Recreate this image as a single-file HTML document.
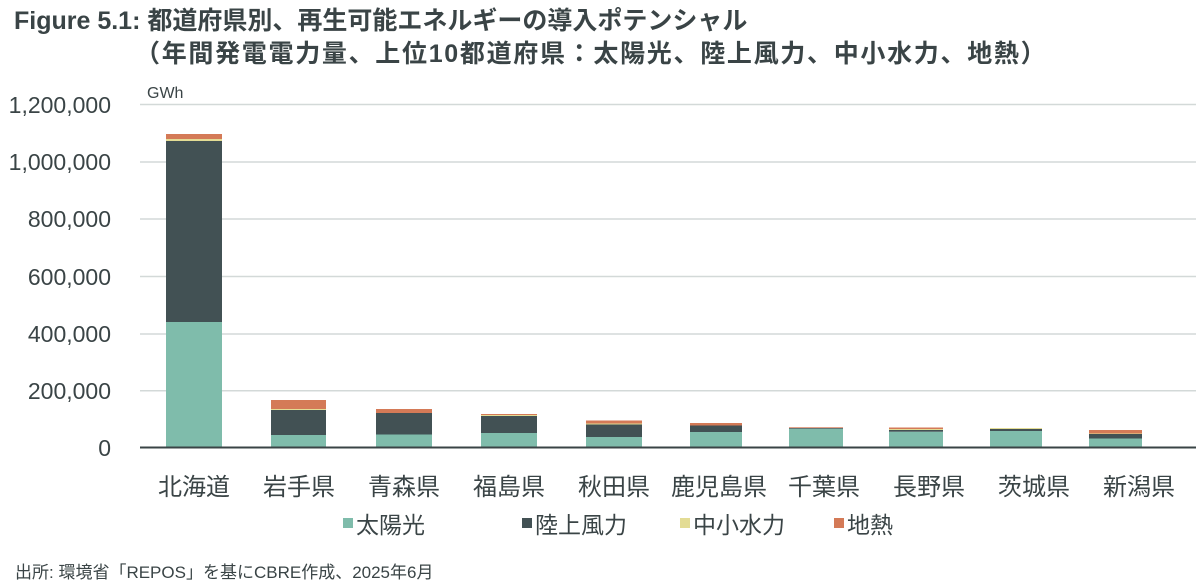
<!DOCTYPE html>
<html><head><meta charset="utf-8"><style>
html,body{margin:0;padding:0;background:#fff;}
svg{display:block;font-family:"Liberation Sans","Noto Sans CJK JP",sans-serif;}
</style></head><body>
<svg width="1200" height="585" viewBox="0 0 1200 585" xmlns="http://www.w3.org/2000/svg">
<g fill="#3a4446">
<text x="14" y="29" font-size="25" font-weight="bold">Figure 5.1: 都道府県別、再生可能エネルギーの導入ポテンシャル</text>
<text x="135" y="62" font-size="25" font-weight="bold" letter-spacing="1.7">（年間発電電力量、上位10都道府県：太陽光、陸上風力、中小水力、地熱）</text>
</g>
<text x="147" y="98" font-size="16" fill="#3a4446">GWh</text>
<g stroke="#d3d9d8" stroke-width="1.5">
<line x1="140" x2="1196" y1="104.5" y2="104.5"/>
<line x1="140" x2="1196" y1="162" y2="162"/>
<line x1="140" x2="1196" y1="219" y2="219"/>
<line x1="140" x2="1196" y1="276.5" y2="276.5"/>
<line x1="140" x2="1196" y1="334" y2="334"/>
<line x1="140" x2="1196" y1="390.8" y2="390.8"/>
</g>
<g font-size="23" fill="#3a4446" text-anchor="end">
<text x="111" y="113">1,200,000</text>
<text x="111" y="170">1,000,000</text>
<text x="111" y="227">800,000</text>
<text x="111" y="285">600,000</text>
<text x="111" y="342">400,000</text>
<text x="111" y="399">200,000</text>
<text x="111" y="456">0</text>
</g>
<g>
<rect x="166" y="322" width="56" height="125" fill="#7fbcab"/>
<rect x="166" y="141" width="56" height="181" fill="#425154"/>
<rect x="166" y="139" width="56" height="2" fill="#e3dc95"/>
<rect x="166" y="134" width="56" height="5" fill="#d47a57"/>
<rect x="271" y="435" width="55" height="12" fill="#7fbcab"/>
<rect x="271" y="410" width="55" height="25" fill="#425154"/>
<rect x="271" y="409" width="55" height="1" fill="#e3dc95"/>
<rect x="271" y="400" width="55" height="9" fill="#d47a57"/>
<rect x="376" y="434.5" width="56" height="12.5" fill="#7fbcab"/>
<rect x="376" y="413" width="56" height="21.5" fill="#425154"/>
<rect x="376" y="409" width="56" height="4" fill="#d47a57"/>
<rect x="481" y="433" width="56" height="14" fill="#7fbcab"/>
<rect x="481" y="416" width="56" height="17" fill="#425154"/>
<rect x="481" y="415" width="56" height="1" fill="#e3dc95"/>
<rect x="481" y="414" width="56" height="1" fill="#d47a57"/>
<rect x="586" y="437" width="56" height="10" fill="#7fbcab"/>
<rect x="586" y="424.5" width="56" height="12.5" fill="#425154"/>
<rect x="586" y="423.5" width="56" height="1" fill="#e3dc95"/>
<rect x="586" y="420.5" width="56" height="3" fill="#d47a57"/>
<rect x="690" y="432" width="52" height="15" fill="#7fbcab"/>
<rect x="690" y="425.5" width="52" height="6.5" fill="#425154"/>
<rect x="690" y="423" width="52" height="2.5" fill="#d47a57"/>
<rect x="789" y="428.7" width="54" height="18.3" fill="#7fbcab"/>
<rect x="789" y="428" width="54" height="0.7" fill="#425154"/>
<rect x="789" y="427.3" width="54" height="0.7" fill="#d47a57"/>
<rect x="889" y="431.7" width="54" height="15.3" fill="#7fbcab"/>
<rect x="889" y="430" width="54" height="1.7" fill="#425154"/>
<rect x="889" y="429" width="54" height="1" fill="#e3dc95"/>
<rect x="889" y="427.5" width="54" height="1.5" fill="#d47a57"/>
<rect x="990" y="431" width="52" height="16" fill="#7fbcab"/>
<rect x="990" y="429" width="52" height="2" fill="#425154"/>
<rect x="990" y="428" width="52" height="1" fill="#e3dc95"/>
<rect x="1089" y="438.5" width="53" height="8.5" fill="#7fbcab"/>
<rect x="1089" y="434" width="53" height="4.5" fill="#425154"/>
<rect x="1089" y="433.5" width="53" height="0.5" fill="#e3dc95"/>
<rect x="1089" y="430" width="53" height="3.5" fill="#d47a57"/>
</g>
<line x1="140" x2="1196" y1="447.5" y2="447.5" stroke="#3a4446" stroke-width="2"/>
<g font-size="24" fill="#3a4446" text-anchor="middle">
<text x="194" y="495">北海道</text>
<text x="299" y="495">岩手県</text>
<text x="404" y="495">青森県</text>
<text x="509" y="495">福島県</text>
<text x="614" y="495">秋田県</text>
<text x="719" y="495">鹿児島県</text>
<text x="824" y="495">千葉県</text>
<text x="929" y="495">長野県</text>
<text x="1034" y="495">茨城県</text>
<text x="1139" y="495">新潟県</text>
</g>
<g font-size="23" fill="#3a4446">
<rect x="343" y="518" width="10" height="10" fill="#7fbcab"/>
<text x="356" y="533">太陽光</text>
<rect x="522" y="518" width="10" height="10" fill="#425154"/>
<text x="535" y="533">陸上風力</text>
<rect x="680" y="518" width="10" height="10" fill="#e3dc95"/>
<text x="693" y="533">中小水力</text>
<rect x="834" y="518" width="10" height="10" fill="#d47a57"/>
<text x="847" y="533">地熱</text>
</g>
<text x="15" y="578" font-size="17" fill="#3a4446">出所: 環境省「REPOS」を基にCBRE作成、2025年6月</text>
</svg>
</body></html>
